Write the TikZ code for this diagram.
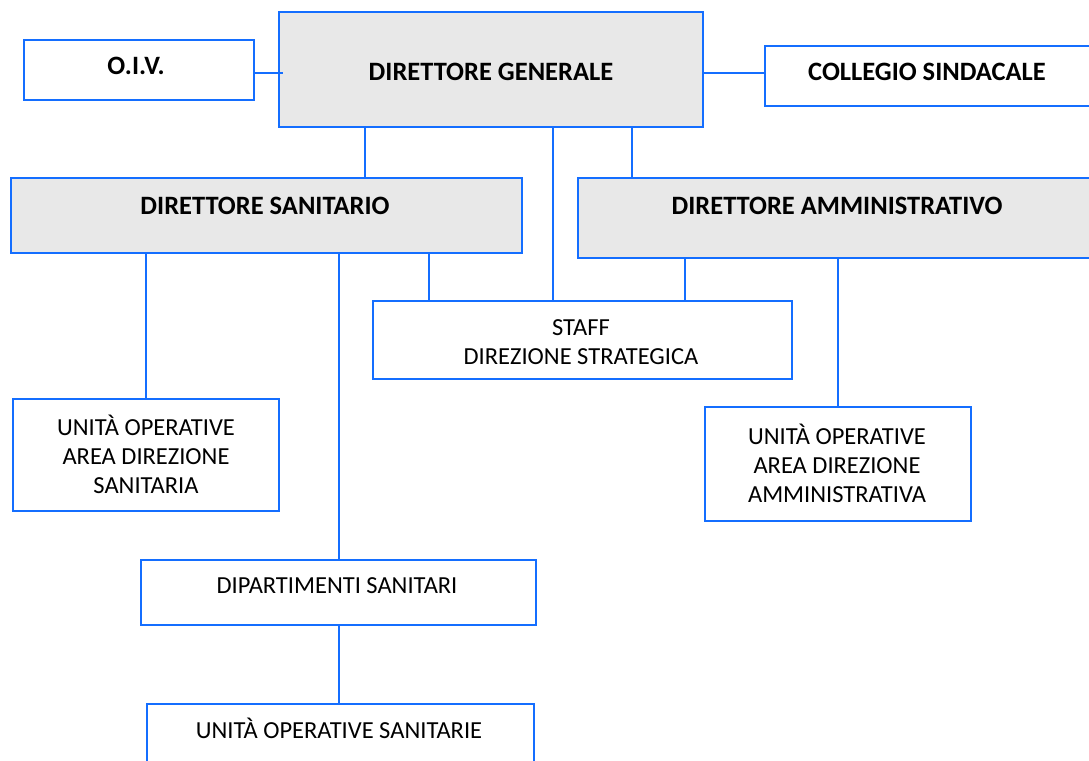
\documentclass[tikz,border=0pt]{standalone}
\usepackage{fontspec}
\setmainfont{Carlito}
\definecolor{orgblue}{RGB}{20,110,255}
\definecolor{orggrey}{RGB}{232,232,232}
\begin{document}
\begin{tikzpicture}[x=1pt,y=-1pt,
	box/.style={shape=rectangle,draw=orgblue,line width=2.4pt,anchor=north west,inner sep=0pt},
	head/.style={box,fill=orggrey},
	title/.style={font=\fontsize{26.5}{30}\selectfont\bfseries},
	txt/.style={font=\fontsize{24.5}{29}\selectfont,align=center},
	link/.style={draw=orgblue,line width=2.4pt}]
		\useasboundingbox (0,0) rectangle (1089,760);
		\node[box,minimum width=230pt,minimum height=60pt] (oiv) at (23,39) {};
		\node[head,minimum width=424pt,minimum height=115pt] (dg) at (278,11) {};
		\node[box,minimum width=340pt,minimum height=60pt] (coll) at (764,45) {};
		\node[head,minimum width=511pt,minimum height=75pt] (ds) at (10,177) {};
		\node[head,minimum width=530pt,minimum height=80pt] (da) at (577,177) {};
		\node[box,minimum width=419pt,minimum height=78pt] (staff) at (372,300) {};
		\node[box,minimum width=266pt,minimum height=112pt] (uods) at (12,398) {};
		\node[box,minimum width=266pt,minimum height=114pt] (uoda) at (704,406) {};
		\node[box,minimum width=395pt,minimum height=65pt] (dip) at (140,559) {};
		\node[box,minimum width=387pt,minimum height=80pt] (uos) at (146,703) {};
		
		\node[title] (oiv-t) at (136,66) {O.I.V.};
		\node[title] (dg-t) at (491,72) {DIRETTORE GENERALE};
		\node[title] (coll-t) at (927,72) {COLLEGIO SINDACALE};
		\node[title] (ds-t) at (265,206) {DIRETTORE SANITARIO};
		\node[title] (da-t) at (837,206) {DIRETTORE AMMINISTRATIVO};
		\node[txt] (staff-t) at (581,342) {STAFF\\DIREZIONE STRATEGICA};
		\node[txt] (uods-t) at (146,454) {UNITÀ OPERATIVE\\AREA DIREZIONE\\SANITARIA};
		\node[txt] (uoda-t) at (837,463) {UNITÀ OPERATIVE\\AREA DIREZIONE\\AMMINISTRATIVA};
		\node[txt] (dip-t) at (337,586) {DIPARTIMENTI SANITARI};
		\node[txt] (uos-t) at (339,728) {UNITÀ OPERATIVE SANITARIE};
		
		\draw[link] ([yshift=-3pt]oiv.east) -- ([yshift=-3pt,xshift=5pt]oiv.east -| dg.west);
		\draw[link] ([yshift=-3.5pt]dg.east) -- ([yshift=-3.5pt]dg.east -| coll.west);
		\draw[link] ([xshift=87pt]dg.south west) -- ([xshift=87pt]dg.south west |- ds.north);
		\draw[link] ([xshift=275pt]dg.south west) -- ([xshift=275pt]dg.south west |- staff.north);
		\draw[link] ([xshift=354pt]dg.south west) -- ([xshift=354pt]dg.south west |- da.north);
		\draw[link] ([xshift=419pt]ds.south west) -- ([xshift=419pt]ds.south west |- staff.north);
		\draw[link] ([xshift=108pt]da.south west) -- ([xshift=108pt]da.south west |- staff.north);
		\draw[link] (uods.north) -- (uods.north |- ds.south);
		\draw[link] (dip.north) -- (dip.north |- ds.south);
		\draw[link] (uoda.north) -- (uoda.north |- da.south);
		\draw[link] (dip.south) -- (dip.south |- uos.north);
\end{tikzpicture}
\end{document}
